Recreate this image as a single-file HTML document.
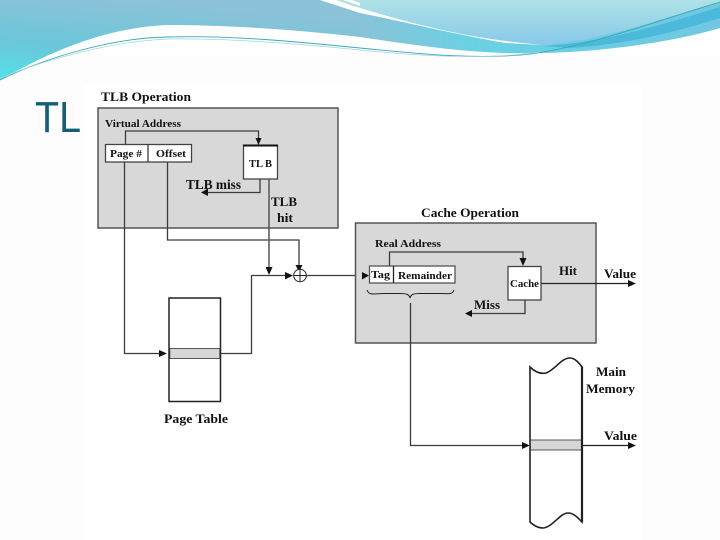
<!DOCTYPE html>
<html>
<head>
<meta charset="utf-8">
<style>
html,body{margin:0;padding:0;background:#fff;width:720px;height:540px;overflow:hidden}
svg{display:block}
.d{filter:blur(0.3px)}
.b{font-family:"Liberation Serif",serif;font-weight:bold;fill:#111}
.t{font-family:"Liberation Sans",sans-serif;fill:#135f78}
.l{fill:none;stroke:#3c3c3c;stroke-width:1.3}
.k{fill:none;stroke:#222;stroke-width:1.3}
.h{fill:#111;stroke:none}
</style>
</head>
<body>
<svg width="720" height="540" viewBox="0 0 720 540" xmlns="http://www.w3.org/2000/svg">
<defs>
<linearGradient id="g1" x1="0" y1="1" x2="0.35" y2="0">
<stop offset="0" stop-color="#52e0e8"/>
<stop offset="0.45" stop-color="#6cc6da"/>
<stop offset="1" stop-color="#8cc2d8"/>
</linearGradient>
<linearGradient id="g2" x1="0" y1="0" x2="0" y2="1">
<stop offset="0" stop-color="#aee2e6"/>
<stop offset="1" stop-color="#88c8ea"/>
</linearGradient>
<linearGradient id="g3" gradientUnits="userSpaceOnUse" x1="355" y1="0" x2="720" y2="0">
<stop offset="0" stop-color="#8ac2d8"/>
<stop offset="0.35" stop-color="#68d2e4"/>
<stop offset="1" stop-color="#70c8e0"/>
</linearGradient>
</defs>
<rect width="720" height="540" fill="#fff"/>
<rect x="0" y="55" width="720" height="485" fill="#fdfdfd"/>
<rect x="84" y="84" width="558" height="456" fill="#fff"/>

<!-- header swoosh -->
<path d="M340,0H720V28C680,40 610,52 540,53C480,55 420,46 360,37V0Z" fill="url(#g3)"/>
<path d="M0,0H320L360,13V37C300,30 230,25 167,25C100,28 45,55 0,80Z" fill="url(#g1)"/>
<path d="M336,0C345,3 352,6 360,8C405,21 460,38 543,45C610,40 670,15 720,2V0Z" fill="url(#g2)"/>
<path d="M320,0H336C345,3 352,6 360,8C405,21 460,38 543,45L505,43C450,33 405,22 360,13C345,8 333,4 320,0Z" fill="#fff"/>
<path d="M343,0H352L360,3V6C354,4 349,2 343,0Z" fill="#fff"/>
<path d="M543,46C610,42 670,22 720,7V18C670,34 620,45 570,48Z" fill="#4cb8dc"/>
<path d="M0,80C45,58 110,38 167,37C230,35 300,42 360,48C420,54 480,60 530,54C590,46 660,20 720,2" fill="none" stroke="#3aa8b8" stroke-width="0.9"/>
<path d="M0,78C50,58 110,42 167,39C230,38 300,44 360,50C420,56 490,60 540,52" fill="none" stroke="#9fd4dc" stroke-width="0.7"/>

<text class="t" x="35" y="132" font-size="44" textLength="46" lengthAdjust="spacingAndGlyphs">TL</text>

<g class="d">
<!-- TLB operation -->
<rect x="98" y="108" width="240" height="120" fill="#d8d8d8" stroke="#555" stroke-width="1.5"/>
<text class="b" x="101" y="101" font-size="12.500" textLength="90" lengthAdjust="spacingAndGlyphs">TLB Operation</text>
<text class="b" x="105" y="127" font-size="10.500" textLength="76" lengthAdjust="spacingAndGlyphs">Virtual Address</text>
<rect x="105.500" y="144.500" width="86" height="17.500" fill="#fff" stroke="#444" stroke-width="1.300"/>
<path class="l" d="M148,144.500V162"/>
<text class="b" x="110" y="157" font-size="10.500" textLength="32" lengthAdjust="spacingAndGlyphs">Page #</text>
<text class="b" x="156" y="157" font-size="10.500" textLength="30" lengthAdjust="spacingAndGlyphs">Offset</text>
<rect x="243.500" y="145.500" width="34" height="33.500" fill="#fff" stroke="#444" stroke-width="1.300"/>
<path d="M243,145.500H278" stroke="#111" stroke-width="2"/>
<text class="b" x="249" y="167" font-size="10.500" textLength="23" lengthAdjust="spacingAndGlyphs">TL B</text>
<path class="l" d="M125.500,144V131H258.500V140"/>
<path class="h" d="M255.500,138H261.500L258.500,145Z"/>
<path class="l" d="M260,179V192.500H207"/>
<path class="h" d="M208,188.500V196L201,192.500Z"/>
<text class="b" x="186" y="189" font-size="13.500" textLength="55" lengthAdjust="spacingAndGlyphs">TLB miss</text>
<text class="b" x="271" y="206" font-size="13" textLength="26" lengthAdjust="spacingAndGlyphs">TLB</text>
<text class="b" x="277" y="222" font-size="13" textLength="16" lengthAdjust="spacingAndGlyphs">hit</text>

<!-- connectors left -->
<path class="l" d="M124.500,162V353.500H160"/>
<path class="h" d="M159,350V357L167,353.500Z"/>
<path class="l" d="M167.500,162V240H299V267"/>
<path class="h" d="M295.500,265H302.500L299,272Z"/>
<path class="l" d="M269,179V268" style="stroke-width:1.500;stroke:#555"/>
<path class="h" d="M265.500,267H272.500L269,275Z"/>
<path class="l" d="M220,353.500H251.500V275.500H287"/>
<path class="h" d="M285,272V279.500L293,275.500Z"/>
<circle cx="300" cy="275.500" r="6.300" fill="#fff" stroke="#222" stroke-width="1"/>
<path d="M293.700,275.500H306.300M300,269.200V281.800" stroke="#222" stroke-width="1" fill="none"/>
<path class="l" d="M306.500,275.500H363"/>

<!-- Page table -->
<rect x="169" y="298" width="51.500" height="103.500" fill="#fff" stroke="#222" stroke-width="1.500"/>
<rect x="169.800" y="348.500" width="50" height="10" fill="#d6d6d6" stroke="#333" stroke-width="0.800"/>
<text class="b" x="164" y="423" font-size="12.500" textLength="64" lengthAdjust="spacingAndGlyphs">Page Table</text>

<!-- Cache operation -->
<rect x="355.500" y="223" width="240.500" height="120" fill="#d8d8d8" stroke="#555" stroke-width="1.500"/>
<text class="b" x="421" y="217" font-size="12.500" textLength="98" lengthAdjust="spacingAndGlyphs">Cache Operation</text>
<text class="b" x="375" y="247" font-size="10.500" textLength="66" lengthAdjust="spacingAndGlyphs">Real Address</text>
<path class="h" d="M362,272V279.500L369,275.500Z"/>
<rect x="369.500" y="266" width="85.500" height="17" fill="#fff" stroke="#555" stroke-width="1.300"/>
<path class="k" d="M393.500,266V283"/>
<text class="b" x="371" y="278" font-size="10.500" textLength="19" lengthAdjust="spacingAndGlyphs">Tag</text>
<text class="b" x="398" y="279" font-size="10.500" textLength="54" lengthAdjust="spacingAndGlyphs">Remainder</text>
<path class="l" d="M389.500,266V252H523V260"/>
<path class="h" d="M519.500,258H526.500L523,266Z"/>
<rect x="508" y="266.500" width="33" height="33.500" fill="#fff" stroke="#444" stroke-width="1.300"/>
<text class="b" x="510" y="287" font-size="10.500" textLength="29" lengthAdjust="spacingAndGlyphs">Cache</text>
<path class="l" d="M525,300V313.500H470"/>
<path class="h" d="M472,310V317L465,313.500Z"/>
<text class="b" x="474" y="309" font-size="13" textLength="26" lengthAdjust="spacingAndGlyphs">Miss</text>
<path class="k" d="M541,283.500H630"/>
<path class="h" d="M628,280V287L636,283.500Z"/>
<text class="b" x="559" y="275" font-size="12.500" textLength="18" lengthAdjust="spacingAndGlyphs">Hit</text>
<text class="b" x="604" y="278" font-size="12.500" textLength="32" lengthAdjust="spacingAndGlyphs">Value</text>
<path d="M367,290C369,296 375,293.500 385,293.500H400C406,293.500 409,294 410,298C411,294 414,293.500 420,293.500H440C449,293.500 452,295 454,290" fill="none" stroke="#222" stroke-width="1"/>
<path class="l" d="M410.500,303V445.500H524"/>
<path class="h" d="M522,442V449L530,445.500Z"/>

<!-- Main memory -->
<path d="M530,367C536,373 541,374 546,373C555,370 561,358 570,358C575,358 579,363 582,367V522C578,518 574,513 568,513C560,513 553,527 543,528C538,528 533,525 530,522Z" fill="#fff" stroke="#222" stroke-width="1.600"/>
<rect x="530.500" y="440" width="51" height="10" fill="#d6d6d6" stroke="#333" stroke-width="0.800"/>
<path d="M582,367V522" stroke="#222" stroke-width="2.200"/>
<text class="b" x="596" y="376" font-size="12.500" textLength="30" lengthAdjust="spacingAndGlyphs">Main</text>
<text class="b" x="586" y="393" font-size="12.500" textLength="49" lengthAdjust="spacingAndGlyphs">Memory</text>
<path class="k" d="M582,445.500H630"/>
<path class="h" d="M628,442V449L636,445.500Z"/>
<text class="b" x="604" y="440" font-size="12.500" textLength="33" lengthAdjust="spacingAndGlyphs">Value</text>
</g>
</svg>
</body>
</html>
